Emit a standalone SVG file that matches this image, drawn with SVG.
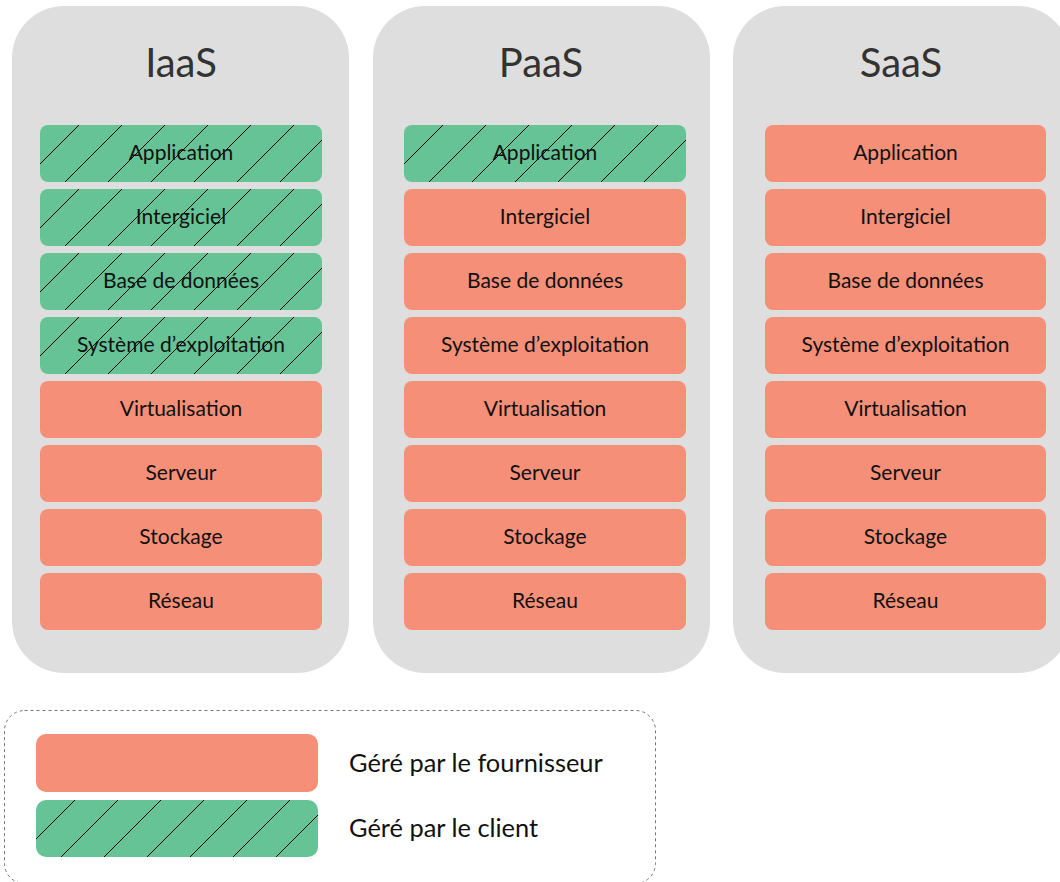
<svg xmlns="http://www.w3.org/2000/svg" width="1060" height="882" viewBox="0 0 1060 882">
<style>
.col{fill:#dedede}
.title{font-family:Lato,"Open Sans","Liberation Sans",sans-serif;font-size:40px;fill:#333;text-anchor:middle}
.prov{fill:#f68f77}
.cli{fill:#65c396}
.lbl{font-family:Lato,"Open Sans","Liberation Sans",sans-serif;font-size:21px;fill:#111;text-anchor:middle}
.leg{font-family:Lato,"Open Sans","Liberation Sans",sans-serif;font-size:25.4px;fill:#111}
</style>
<defs>
<pattern id="hatch" patternUnits="userSpaceOnUse" width="43" height="43">
<path d="M-2,41 L41,-2 M37,45 L45,37" stroke="#000" stroke-width="1"/>
</pattern>
</defs>
<g id="col-iaas">
<rect class="col" x="12" y="6" width="337" height="667" rx="52"/>
<text class="title" x="181" y="77">IaaS</text>
</g>
<g id="col-paas">
<rect class="col" x="373" y="6" width="337" height="667" rx="52"/>
<text class="title" x="541" y="77">PaaS</text>
</g>
<g id="col-saas">
<rect class="col" x="733" y="6" width="337" height="667" rx="52"/>
<text class="title" x="901" y="77">SaaS</text>
</g>

<g id="iaas-application" transform="translate(40,125)"><rect class="cli" width="282" height="57" rx="8"/><rect fill="url(#hatch)" width="282" height="57" rx="8"/><text class="lbl" x="141" y="35">Application</text></g>
<g id="iaas-intergiciel" transform="translate(40,189)"><rect class="cli" width="282" height="57" rx="8"/><rect fill="url(#hatch)" width="282" height="57" rx="8"/><text class="lbl" x="141" y="35">Intergiciel</text></g>
<g id="iaas-bdd" transform="translate(40,253)"><rect class="cli" width="282" height="57" rx="8"/><rect fill="url(#hatch)" width="282" height="57" rx="8"/><text class="lbl" x="141" y="35">Base de données</text></g>
<g id="iaas-os" transform="translate(40,317)"><rect class="cli" width="282" height="57" rx="8"/><rect fill="url(#hatch)" width="282" height="57" rx="8"/><text class="lbl" x="141" y="35">Système d’exploitation</text></g>
<g id="iaas-virt" transform="translate(40,381)"><rect class="prov" width="282" height="57" rx="8"/><text class="lbl" x="141" y="35">Virtualisation</text></g>
<g id="iaas-serveur" transform="translate(40,445)"><rect class="prov" width="282" height="57" rx="8"/><text class="lbl" x="141" y="35">Serveur</text></g>
<g id="iaas-stockage" transform="translate(40,509)"><rect class="prov" width="282" height="57" rx="8"/><text class="lbl" x="141" y="35">Stockage</text></g>
<g id="iaas-reseau" transform="translate(40,573)"><rect class="prov" width="282" height="57" rx="8"/><text class="lbl" x="141" y="35">Réseau</text></g>

<g id="paas-application" transform="translate(404,125)"><rect class="cli" width="282" height="57" rx="8"/><rect fill="url(#hatch)" width="282" height="57" rx="8"/><text class="lbl" x="141" y="35">Application</text></g>
<g id="paas-intergiciel" transform="translate(404,189)"><rect class="prov" width="282" height="57" rx="8"/><text class="lbl" x="141" y="35">Intergiciel</text></g>
<g id="paas-bdd" transform="translate(404,253)"><rect class="prov" width="282" height="57" rx="8"/><text class="lbl" x="141" y="35">Base de données</text></g>
<g id="paas-os" transform="translate(404,317)"><rect class="prov" width="282" height="57" rx="8"/><text class="lbl" x="141" y="35">Système d’exploitation</text></g>
<g id="paas-virt" transform="translate(404,381)"><rect class="prov" width="282" height="57" rx="8"/><text class="lbl" x="141" y="35">Virtualisation</text></g>
<g id="paas-serveur" transform="translate(404,445)"><rect class="prov" width="282" height="57" rx="8"/><text class="lbl" x="141" y="35">Serveur</text></g>
<g id="paas-stockage" transform="translate(404,509)"><rect class="prov" width="282" height="57" rx="8"/><text class="lbl" x="141" y="35">Stockage</text></g>
<g id="paas-reseau" transform="translate(404,573)"><rect class="prov" width="282" height="57" rx="8"/><text class="lbl" x="141" y="35">Réseau</text></g>

<g id="saas-application" transform="translate(765,125)"><rect class="prov" width="281" height="57" rx="8"/><text class="lbl" x="140.5" y="35">Application</text></g>
<g id="saas-intergiciel" transform="translate(765,189)"><rect class="prov" width="281" height="57" rx="8"/><text class="lbl" x="140.5" y="35">Intergiciel</text></g>
<g id="saas-bdd" transform="translate(765,253)"><rect class="prov" width="281" height="57" rx="8"/><text class="lbl" x="140.5" y="35">Base de données</text></g>
<g id="saas-os" transform="translate(765,317)"><rect class="prov" width="281" height="57" rx="8"/><text class="lbl" x="140.5" y="35">Système d’exploitation</text></g>
<g id="saas-virt" transform="translate(765,381)"><rect class="prov" width="281" height="57" rx="8"/><text class="lbl" x="140.5" y="35">Virtualisation</text></g>
<g id="saas-serveur" transform="translate(765,445)"><rect class="prov" width="281" height="57" rx="8"/><text class="lbl" x="140.5" y="35">Serveur</text></g>
<g id="saas-stockage" transform="translate(765,509)"><rect class="prov" width="281" height="57" rx="8"/><text class="lbl" x="140.5" y="35">Stockage</text></g>
<g id="saas-reseau" transform="translate(765,573)"><rect class="prov" width="281" height="57" rx="8"/><text class="lbl" x="140.5" y="35">Réseau</text></g>

<g id="legend">
<rect x="4.5" y="710.5" width="651" height="173" rx="20" fill="none" stroke="#777" stroke-width="1" stroke-dasharray="3,3"/>
<g id="legend-prov" transform="translate(36,734)"><rect class="prov" width="282" height="58" rx="10"/></g>
<text class="leg" x="349" y="772">Géré par le fournisseur</text>
<g id="legend-cli" transform="translate(36,800)"><rect class="cli" width="282" height="57" rx="10"/><rect fill="url(#hatch)" width="282" height="57" rx="10"/></g>
<text class="leg" x="349" y="837">Géré par le client</text>
</g>
<g id="connectors"/>
</svg>
